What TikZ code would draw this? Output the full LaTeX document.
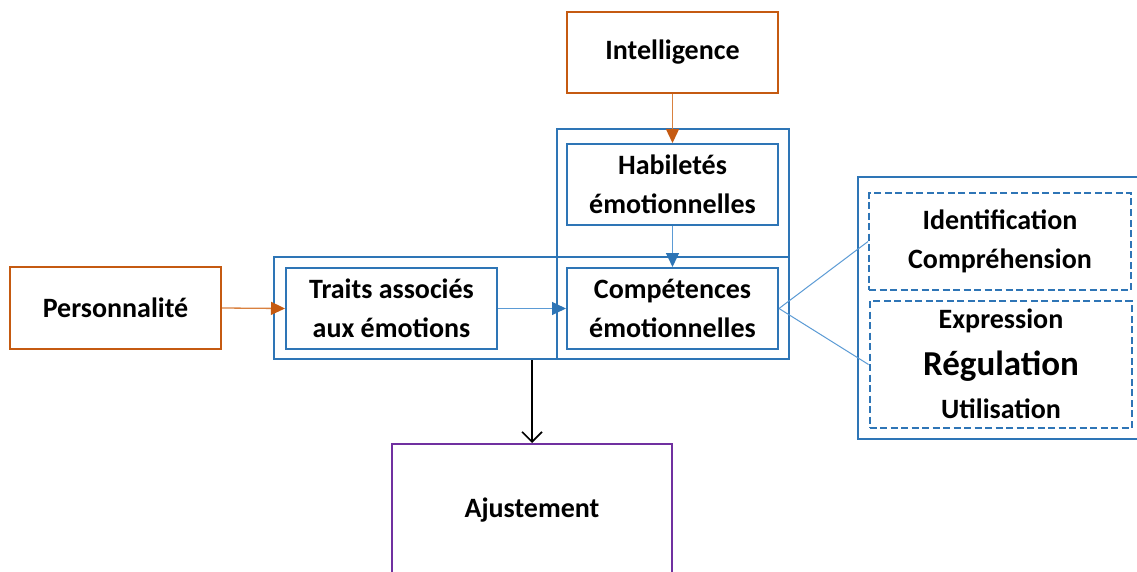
\documentclass[tikz,border=0pt]{standalone}
\usepackage{fontspec}
\setmainfont{Carlito}
\usetikzlibrary{arrows.meta}
\definecolor{orng}{HTML}{C55A11}
\definecolor{orngl}{HTML}{D9813F}
\definecolor{blu}{HTML}{2E75B6}
\definecolor{blul}{HTML}{5B9BD5}
\definecolor{purp}{HTML}{7030A0}
\begin{document}
\begin{tikzpicture}[x=1pt,y=-1pt,
  box/.style={draw, line width=2pt, inner sep=0pt, align=center,
    font=\bfseries\fontsize{28}{38.5}\selectfont},
  obox/.style={box, draw=orng},
  bbox/.style={box, draw=blu},
  dbox/.style={box, draw=blu, dash pattern=on 7pt off 3.5pt},
  txt/.style={inner sep=0pt, anchor=base, font=\bfseries\fontsize{28}{34}\selectfont},
  otip/.style={-{Triangle[length=14pt,width=13pt,color=orng,fill=orng]}},
  btip/.style={-{Triangle[length=14pt,width=13pt,color=blu,fill=blu]}}
]
\clip (0,0) rectangle (1137,572);
\fill[white] (0,0) rectangle (1137,572);

% outer groups
\node[bbox, minimum width=232pt, minimum height=230pt] (outerV) at (673,244) {};
\node[bbox, minimum width=515pt, minimum height=102pt] (outerH) at (531.5,308) {};
\node[bbox, minimum width=282pt, minimum height=262pt] (outerR) at (999,308) {};

% boxes
\node[obox, minimum width=211pt, minimum height=81pt] (intel) at (672.5,52.5) {Intelligence};
\node[obox, minimum width=211pt, minimum height=82pt] (pers) at (115.5,308) {Personnalité};
\node[bbox, minimum width=211pt, minimum height=81pt] (hab) at (672.5,184.5) {Habiletés\\émotionnelles};
\node[bbox, minimum width=211pt, minimum height=81pt] (comp) at (672.5,308.5) {Compétences\\émotionnelles};
\node[bbox, minimum width=211pt, minimum height=81pt] (traits) at (391.5,308.5) {Traits associés\\aux émotions};
\node[dbox, minimum width=262pt, minimum height=97pt] (dash1) at (1000,241.5) {Identification\\Compréhension};
\node[dbox, minimum width=262pt, minimum height=127pt] (dash2) at (1000.5,364.5) {};
\node[box, draw=purp, minimum width=280pt, minimum height=132pt] (ajust) at (532,510) {Ajustement};

% texts of the lower dashed box
\node[txt] (expr) at (1001,328) {Expression};
\node[txt, font=\bfseries\fontsize{35}{40}\selectfont] (regul) at (1001,375) {Régulation};
\node[txt] (util) at (1001,418) {Utilisation};

% connectors
\draw[orngl, line width=1.3pt, otip] (intel.south) -- (hab.north);
\draw[orngl, line width=1.3pt, otip] (pers.east) -- (traits.west);
\draw[blul, line width=1.3pt, btip] (traits.east) -- (comp.west);
\draw[blul, line width=1.3pt, btip] (hab.south) -- (comp.north);
\draw[blul, line width=1pt] (comp.east) -- (dash1.west);
\draw[blul, line width=1pt] (comp.east) -- (dash2.west);
\draw[black, line width=1.6pt, -{Straight Barb[length=10pt,width=20pt]}] (outerH.south -| ajust.north) -- (ajust.north);
\end{tikzpicture}
\end{document}
